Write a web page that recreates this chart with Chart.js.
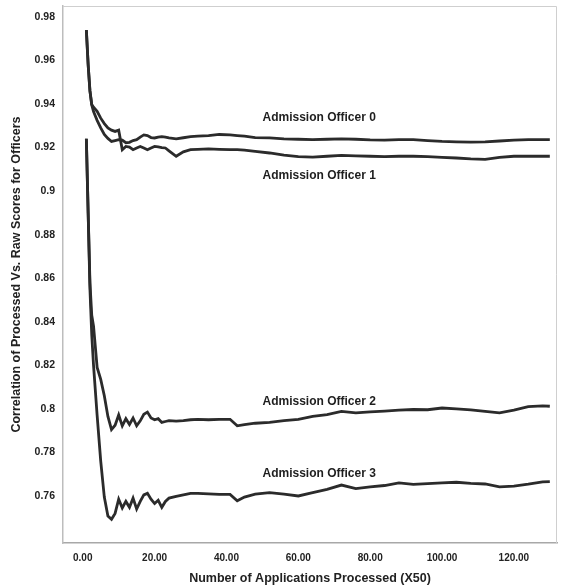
<!DOCTYPE html>
<html>
<head>
<meta charset="utf-8">
<script src="https://cdn.jsdelivr.net/npm/chart.js@4.4.1/dist/chart.umd.min.js"></script>
<style>
  body { margin: 0; background: #fff; }
  #wrap { width: 561px; height: 586px; }
</style>
</head>
<body>
<div id="wrap"><canvas id="officers_chart" width="561" height="586"></canvas></div>
<script>
// applications processed (x50), shared by all four officers
const apps = [1, 1.5, 2, 2.5, 3, 4, 5, 6, 7, 8, 9, 10, 11, 12, 13, 14, 15, 16, 17, 18, 19, 20,
    21, 22, 23, 24, 26, 28, 30, 32, 35, 38, 41, 43, 45, 48, 52, 56, 60, 64, 68, 72, 76, 80,
    84, 88, 92, 96, 100, 104, 108, 112, 116, 120, 124, 128, 130];

const officer0 = [0.974, 0.958, 0.946, 0.9395, 0.9365, 0.9325, 0.929, 0.926, 0.9242, 0.9228,
    0.9232, 0.9236, 0.9234, 0.9222, 0.9224, 0.9232, 0.9236, 0.9248, 0.9258, 0.9255, 0.9246,
    0.9244, 0.9248, 0.925, 0.9248, 0.9244, 0.924, 0.9245, 0.925, 0.9252, 0.9255, 0.926,
    0.9258, 0.9255, 0.9252, 0.9246, 0.9244, 0.924, 0.9238, 0.9236, 0.9238, 0.924, 0.9238,
    0.9235, 0.9234, 0.9236, 0.9236, 0.9232, 0.9228, 0.9226, 0.9225, 0.9226, 0.923, 0.9234,
    0.9236, 0.9236, 0.9236];

const officer1 = [0.974, 0.958, 0.946, 0.9398, 0.9385, 0.9366, 0.9335, 0.931, 0.929, 0.928,
    0.9274, 0.928, 0.919, 0.9205, 0.9202, 0.919, 0.9198, 0.9205, 0.9198, 0.919, 0.9198,
    0.9205, 0.9203, 0.92, 0.9198, 0.9185, 0.916, 0.918, 0.919, 0.9192, 0.9194, 0.9192,
    0.919, 0.919, 0.9188, 0.9182, 0.9175, 0.9165, 0.9158, 0.9156, 0.916, 0.9164, 0.9162,
    0.916, 0.9158, 0.916, 0.916, 0.9158, 0.9155, 0.9152, 0.9148, 0.9146, 0.9155, 0.916,
    0.916, 0.916, 0.916];

const officer2 = [0.924, 0.89, 0.858, 0.843, 0.838, 0.819, 0.8135, 0.806, 0.7965, 0.7905,
    0.7925, 0.7972, 0.7922, 0.7955, 0.7928, 0.7958, 0.7922, 0.7945, 0.7975, 0.7985, 0.7958,
    0.795, 0.7955, 0.7938, 0.7942, 0.7946, 0.7944, 0.7946, 0.795, 0.7952, 0.795, 0.7952,
    0.7952, 0.7922, 0.7928, 0.7934, 0.7938, 0.7946, 0.7952, 0.7966, 0.7974, 0.7988, 0.7982,
    0.7986, 0.799, 0.7994, 0.7997, 0.7996, 0.8004, 0.8, 0.7995, 0.7988, 0.7982, 0.7994,
    0.801, 0.8014, 0.8012];

const officer3 = [0.924, 0.89, 0.855, 0.834, 0.82, 0.797, 0.776, 0.7595, 0.7508, 0.7493,
    0.752, 0.7585, 0.7545, 0.7575, 0.7548, 0.759, 0.754, 0.7575, 0.7605, 0.7612, 0.7585,
    0.7565, 0.758, 0.7548, 0.7575, 0.759, 0.7598, 0.7605, 0.7612, 0.7612, 0.761, 0.7607,
    0.7607, 0.7578, 0.7595, 0.7608, 0.7615, 0.7608, 0.76, 0.7615, 0.763, 0.765, 0.7634,
    0.7642, 0.7648, 0.766, 0.7653, 0.7657, 0.766, 0.7663, 0.7658, 0.7655, 0.7642, 0.7645,
    0.7654, 0.7665, 0.7666];

const series_names = ['Admission Officer 0', 'Admission Officer 1', 'Admission Officer 2', 'Admission Officer 3'];

const y_ticks = [0.76, 0.78, 0.8, 0.82, 0.84, 0.86, 0.88, 0.9, 0.92, 0.94, 0.96, 0.98];
const y_tick_labels = ['0.76', '0.78', '0.8', '0.82', '0.84', '0.86', '0.88', '0.9', '0.92', '0.94', '0.96', '0.98'];
const x_ticks = [0, 20, 40, 60, 80, 100, 120];
const x_tick_labels = ['0.00', '20.00', '40.00', '60.00', '80.00', '100.00', '120.00'];

// where the officer names sit, in data units
const name_spots = [[65.8, 0.9337], [65.8, 0.907], [65.8, 0.8034], [65.8, 0.77]];

const INK = '#2b2b2b';
const FONT = "'Liberation Sans', Arial, sans-serif";

function points(ys) {
    return apps.map(function (x, i) { return { x: x, y: ys[i] }; });
}

var nameLabels = {
    id: 'nameLabels',
    afterDatasetsDraw: function (chart) {
        var ctx = chart.ctx;
        var xs = chart.scales.x, ys = chart.scales.y;
        ctx.save();
        ctx.font = 'bold 12px ' + FONT;
        ctx.fillStyle = '#1e1e1e';
        ctx.textAlign = 'center';
        ctx.textBaseline = 'middle';
        for (var i = 0; i < series_names.length; i++) {
            ctx.fillText(series_names[i], xs.getPixelForValue(name_spots[i][0]), ys.getPixelForValue(name_spots[i][1]));
        }
        ctx.restore();
    }
};

var frame = {
    id: 'frame',
    beforeDatasetsDraw: function (chart) {
        var a = chart.chartArea, ctx = chart.ctx;
        ctx.save();
        ctx.strokeStyle = '#cfcfcf';
        ctx.lineWidth = 1;
        ctx.beginPath();
        ctx.moveTo(a.left, a.top + 0.5);
        ctx.lineTo(a.right - 0.5, a.top + 0.5);
        ctx.lineTo(a.right - 0.5, a.bottom);
        ctx.stroke();
        ctx.restore();
    }
};

var datasets = [officer0, officer1, officer2, officer3].map(function (ys, i) {
    return {
        label: series_names[i],
        data: points(ys),
        borderColor: INK,
        borderWidth: 2.8,
        pointRadius: 0,
        tension: 0,
        fill: false
    };
});

new Chart(document.getElementById('officers_chart'), {
    type: 'line',
    data: { datasets: datasets },
    plugins: [frame, nameLabels],
    options: {
        responsive: false,
        animation: false,
        layout: { padding: { left: 0, top: 6, right: 4, bottom: 0 } },
        plugins: {
            legend: { display: false },
            tooltip: { enabled: false }
        },
        scales: {
            x: {
                type: 'linear',
                min: -5.5,
                max: 132,
                grid: { display: false, drawTicks: false },
                border: { display: true, color: '#a8a8a8', width: 1.5 },
                afterFit: function (s) { s.height = 43; s.paddingLeft = 0; s.paddingRight = 0; },
                afterBuildTicks: function (s) { s.ticks = x_ticks.map(function (v) { return { value: v }; }); },
                ticks: {
                    padding: 9,
                    maxRotation: 0,
                    color: '#222',
                    font: { family: FONT, size: 10, weight: 'bold' },
                    callback: function (v) { return x_tick_labels[x_ticks.indexOf(v)]; }
                },
                title: {
                    display: true,
                    text: 'Number of Applications Processed (X50)',
                    color: '#222',
                    font: { family: FONT, size: 12.5, weight: 'bold' },
                    padding: { top: 0, bottom: 0 }
                }
            },
            y: {
                min: 0.7384,
                max: 0.985,
                grid: { display: false, drawTicks: false },
                border: { display: true, color: '#bdbdbd', width: 1.5 },
                afterFit: function (s) { s.width = 63; s.paddingTop = 0; s.paddingBottom = 0; },
                afterBuildTicks: function (s) { s.ticks = y_ticks.map(function (v) { return { value: v }; }); },
                ticks: {
                    padding: 8,
                    color: '#222',
                    font: { family: FONT, size: 10.5, weight: 'bold' },
                    callback: function (v) { return y_tick_labels[y_ticks.indexOf(v)]; }
                },
                title: {
                    display: true,
                    text: 'Correlation of Processed Vs. Raw Scores for Officers',
                    color: '#222',
                    font: { family: FONT, size: 12.5, weight: 'bold' },
                    padding: { top: 9, bottom: 0 }
                }
            }
        }
    }
});
</script>
</body>
</html>
